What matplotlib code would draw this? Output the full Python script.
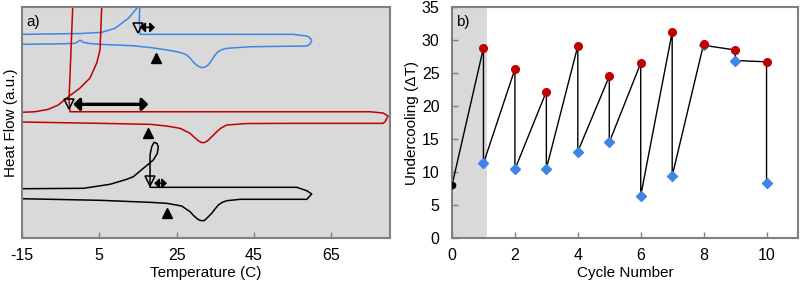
import numpy as np
import matplotlib.pyplot as plt

plt.rcParams['font.family'] = ['Liberation Sans', 'DejaVu Sans']
plt.rcParams['axes.unicode_minus'] = False

# ---- panel a: DSC traces (temperature in C, heat flow in a.u.) ----
blue_T = [-15.0, -5.17, -1.29, -0.51, 0.01, 0.86, 2.59, 5.18, 13.72, 18.12, 21.48, 25.03,
          26.40, 27.61, 28.47, 29.24, 30.02, 30.54, 31.18, 31.83, 32.48, 33.12, 33.77, 34.42,
          35.06, 35.71, 36.75, 37.96, 43.99, 51.75, 58.66,
          59.52, 59.95, 59.26, 58.66, 55.12, 15.53, 15.35, 15.53, 15.79, 15.53, 14.68,
          12.50, 9.06, 5.62, 0.01, -15.0]
blue_hf = [83.85, 84.07, 84.29, 85.06, 85.71, 84.72, 84.20, 83.85, 83.25, 82.47, 81.69, 80.65,
           80.09, 79.22, 77.92, 76.32, 75.11, 74.46, 73.90, 73.81, 74.11, 74.89, 76.19, 77.92,
           79.44, 80.65, 81.60, 82.12, 82.81, 82.99, 83.12,
           83.98, 85.71, 87.01, 87.45, 88.18, 88.18, 94.37, 105.2, 105.2, 101.3, 99.44,
           95.11, 90.78, 89.05, 88.53, 88.18]

red_T = [-15.0, 5.18, 18.12, 22.44, 25.88, 28.47, 29.50, 30.61, 31.31, 31.91, 32.55, 33.20,
         34.29, 35.37, 36.49, 37.96, 43.14,
         56.93, 78.40, 78.92, 79.70, 78.40, 75.04, -2.58, -2.84, -2.32, -1.88, -1.80, 5.70,
         5.62, 5.36, 5.18, 4.33, 2.59, 0.01, -3.43, -5.61, -8.20, -11.64, -15.0]
red_hf = [50.22, 49.65, 49.22, 48.48, 47.49, 45.32, 43.72, 42.12, 41.43, 41.26, 41.56, 42.42,
          44.16, 46.02, 47.62, 48.92, 49.57,
          49.65, 49.65, 50.35, 52.81, 54.11, 54.67, 54.67, 59.74, 81.39, 100.0, 105.2, 105.2,
          100.13, 88.74, 81.39, 75.76, 69.26, 64.94, 60.61, 57.58, 55.71, 54.67, 54.42]

black_T = [-15.0, 5.18, 18.12, 22.44, 26.32, 28.47, 29.37, 30.20, 30.80, 31.49, 31.96, 32.35,
           33.12, 34.08, 34.93, 35.79, 36.75, 37.96,
           41.40, 58.66, 59.95, 58.66, 56.07, 18.12, 18.12, 18.12, 18.12, 18.56, 19.15, 19.93,
           20.26, 20.01, 18.97, 16.38, 13.80, 12.09, 7.77, 0.86, -15.0]
black_hf = [17.01, 16.32, 15.45, 15.02, 13.85, 11.39, 9.74, 8.53, 7.79, 7.49, 7.53, 7.79,
            9.09, 10.69, 12.55, 14.29, 15.37, 16.15,
            16.75, 16.75, 19.05, 20.48, 21.95, 21.95, 26.84, 33.77, 35.93, 39.52, 41.43, 40.91,
            39.52, 36.67, 33.77, 30.17, 26.54, 25.41, 23.25, 21.52, 21.34]

# onset markers: open triangle (nucleation), double arrow span, filled triangle (melting)
open_tri_T = [15.01, -2.84, 18.12]
open_tri_hf = [91.13, 58.22, 24.89]
arrow_T0 = [15.6, -1.73, 19.2]
arrow_T1 = [19.4, 17.68, 22.5]
arrow_hf = [91.2, 57.88, 23.68]
fill_tri_T = [19.54, 17.68, 22.44]
fill_tri_hf = [77.8, 45.32, 10.95]
arrow_lw = [1.2, 2.4, 1.2]
arrow_head = [8, 10, 8]

# ---- panel b: undercooling per cycle ----
start_cycle = 0
start_dT = 8.0
cycles = [1, 2, 3, 4, 5, 6, 7, 8, 9, 10]
peak_dT = [28.8, 25.6, 22.2, 29.1, 24.5, 26.5, 31.2, 29.4, 28.5, 26.7]
low_dT = [11.3, 10.4, 10.5, 13.1, 14.5, 6.4, 9.4, 29.2, 26.9, 8.4]

gray_bg = '#d9d9d9'
spine_c = '#808080'
red = '#c00000'
blue = '#3d85e6'

fig = plt.figure(figsize=(8, 2.82), dpi=100)
ax1 = fig.add_axes([0.0275, 0.156, 0.46, 0.819])
ax2 = fig.add_axes([0.565, 0.156, 0.4325, 0.819])

# panel a
ax1.set_facecolor(gray_bg)
ax1.plot(blue_T, blue_hf, color=blue, lw=1.1, solid_joinstyle='round')
ax1.plot(red_T, red_hf, color=red, lw=1.1, solid_joinstyle='round')
ax1.plot(black_T, black_hf, color='black', lw=1.1, solid_joinstyle='round')
for i in range(3):
    ax1.plot(open_tri_T[i], open_tri_hf[i], marker='v', ms=7, mfc='none', mec='black', mew=1.1)
    ax1.annotate('', xy=(arrow_T1[i], arrow_hf[i]), xytext=(arrow_T0[i], arrow_hf[i]),
                 arrowprops=dict(arrowstyle='<|-|>,head_length=0.35,head_width=0.35',
                                 color='black', lw=arrow_lw[i],
                                 mutation_scale=arrow_head[i], shrinkA=0, shrinkB=0))
    ax1.plot(fill_tri_T[i], fill_tri_hf[i], marker='^', ms=7, color='black')
ax1.set_xlim(-15, 80.2)
ax1.set_ylim(0, 100)
ax1.set_xticks([-15, 5, 25, 45, 65])
ax1.set_yticks([])
ax1.set_xlabel('Temperature (C)', fontsize=11, labelpad=2)
ax1.set_ylabel('Heat Flow (a.u.)', fontsize=11, labelpad=3)
ax1.text(0.012, 0.965, 'a)', transform=ax1.transAxes, fontsize=11, va='top')

# panel b
ax2.axvspan(0, 1.1, color=gray_bg, lw=0, zorder=0)
line_x = [start_cycle]
line_y = [start_dT]
for c, p, l in zip(cycles, peak_dT, low_dT):
    line_x += [c, c]
    line_y += [p, l]
ax2.plot(line_x, line_y, color='black', lw=1.0, zorder=2)
ax2.plot(cycles, low_dT, ls='none', marker='D', ms=4.8, color=blue, zorder=3)
ax2.plot(cycles, peak_dT, ls='none', marker='o', ms=5.5, color=red, zorder=4)
ax2.plot([start_cycle], [start_dT], ls='none', marker='o', ms=4.5, color='black', zorder=4)
ax2.set_xlim(0, 11)
ax2.set_ylim(0, 35)
ax2.set_xticks([0, 2, 4, 6, 8, 10])
ax2.set_yticks(np.arange(0, 36, 5))
ax2.set_xlabel('Cycle Number', fontsize=11, labelpad=2)
ax2.set_ylabel('Undercooling (\u0394T)', fontsize=11, labelpad=2)
ax2.text(0.012, 0.965, 'b)', transform=ax2.transAxes, fontsize=11, va='top')

for ax in (ax1, ax2):
    for s in ax.spines.values():
        s.set_color(spine_c)
        s.set_linewidth(1.5)
    ax.tick_params(direction='in', length=4, width=1, color=spine_c, labelsize=11.5, pad=7)
ax2.tick_params(axis='y', pad=9)

fig.savefig('out.png', dpi=100)
